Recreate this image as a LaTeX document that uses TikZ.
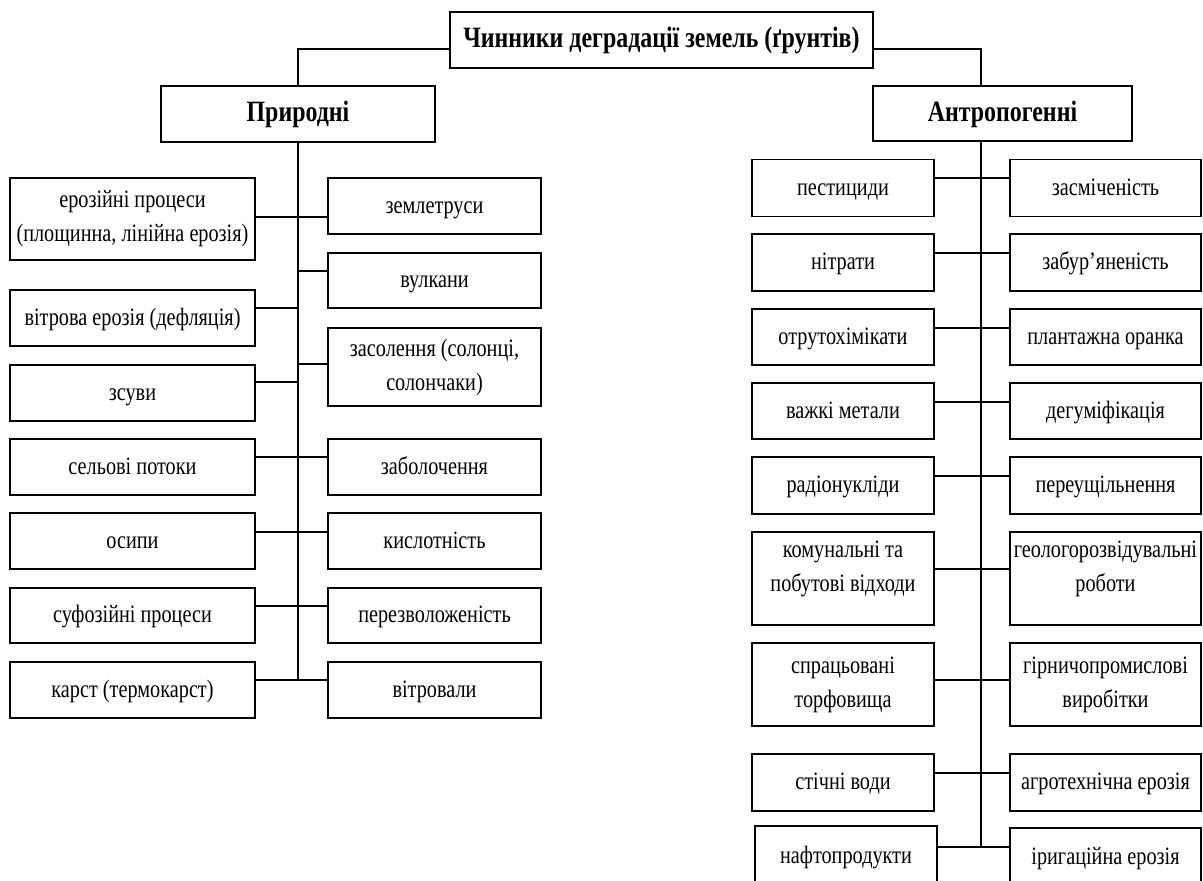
\documentclass[tikz,border=0pt]{standalone}
\usepackage{fontspec}
\setmainfont{Liberation Serif}[FakeStretch=0.81]
\begin{document}
\begin{tikzpicture}[x=1pt,y=-1pt,
  box/.style={draw, line width=1.6pt, inner sep=1pt, font=\fontsize{25}{34}\selectfont, text height=18pt, text depth=4pt},
  box2/.style={draw, line width=1.6pt, inner sep=1pt, align=center, font=\fontsize{25}{34}\selectfont},
  hbox/.style={draw, line width=1.6pt, inner sep=1pt, font=\fontsize{29.5}{32}\selectfont\bfseries, text height=20pt, text depth=5pt},
  conn/.style={line width=1.6pt}]
\useasboundingbox (0,0) rectangle (1203,881);
% headers
\node[hbox, minimum width=423pt, minimum height=56pt] (top) at (661.5,40) {Чинники деградації земель (ґрунтів)};
\node[hbox, minimum width=273.5pt, minimum height=56pt] (nat) at (298,114) {Природні};
\node[hbox, minimum width=259pt, minimum height=55pt] (ant) at (1002.5,113.5) {Антропогенні};
% left group, left column
\begin{scope}[every node/.append style={minimum width=245pt}]
\node[box2, minimum height=82pt] (L1) at (132.5,219) {ерозійні процеси\\(площинна, лінійна ерозія)};
\node[box, minimum height=56pt] (L2) at (132.5,318) {вітрова ерозія (дефляція)};
\node[box, minimum height=56pt] (L3) at (132.5,393) {зсуви};
\node[box, minimum height=56pt] (L4) at (132.5,467) {сельові потоки};
\node[box, minimum height=56pt] (L5) at (132.5,541) {осипи};
\node[box, minimum height=55pt] (L6) at (132.5,615.5) {суфозійні процеси};
\node[box, minimum height=56pt] (L7) at (132.5,690) {карст (термокарст)};
\end{scope}
% left group, right column
\begin{scope}[every node/.append style={minimum width=213pt}]
\node[box, minimum height=56pt] (R1) at (434.5,206) {землетруси};
\node[box, minimum height=55pt] (R2) at (434.5,280.5) {вулкани};
\node[box2, minimum height=78pt] (R3) at (434.5,367) {засолення (солонці,\\солончаки)};
\node[box, minimum height=56pt] (R4) at (434.5,467) {заболочення};
\node[box, minimum height=56pt] (R5) at (434.5,541) {кислотність};
\node[box, minimum height=55pt] (R6) at (434.5,615.5) {перезволоженість};
\node[box, minimum height=56pt] (R7) at (434.5,690) {вітровали};
\end{scope}
% right group, left column
\begin{scope}[every node/.append style={minimum width=182pt}]
\node[box, minimum height=57pt] (A1) at (843,188) {пестициди};
\node[box, minimum height=57pt] (A2) at (843,262.5) {нітрати};
\node[box, minimum height=56pt] (A3) at (843,337) {отрутохімікати};
\node[box, minimum height=56pt] (A4) at (843,411) {важкі метали};
\node[box, minimum height=57pt] (A5) at (843,485.5) {радіонукліди};
\node[box2, minimum height=93pt] (A6) at (843,578.5) {комунальні та\\побутові відходи\\[-10pt]};
\node[box2, minimum height=83pt] (A7) at (843,684.5) {спрацьовані\\торфовища};
\node[box, minimum height=57pt] (A8) at (843,782.5) {стічні води};
\node[box, minimum height=60pt] (A9) at (846,856) {нафтопродукти};
\end{scope}
% right group, right column
\begin{scope}[every node/.append style={minimum width=191pt}]
\node[box, minimum height=57pt] (B1) at (1105.5,188) {засміченість};
\node[box, minimum height=57pt] (B2) at (1105.5,262.5) {забур’яненість};
\node[box, minimum height=56pt] (B3) at (1105.5,337) {плантажна оранка};
\node[box, minimum height=56pt] (B4) at (1105.5,411) {дегуміфікація};
\node[box, minimum height=57pt] (B5) at (1105.5,485.5) {переущільнення};
\node[box2, minimum height=93pt] (B6) at (1105.5,578.5) {геологорозвідувальні\\роботи\\[-10pt]};
\node[box2, minimum height=83pt] (B7) at (1105.5,684.5) {гірничопромислові\\виробітки};
\node[box, minimum height=57pt] (B8) at (1105.5,782.5) {агротехнічна ерозія};
\node[box, minimum height=58pt] (B9) at (1105.5,857) {іригаційна ерозія};
\end{scope}
% junction coordinates
\coordinate (tl) at (298,49);
\coordinate (tr) at (981,49);
\coordinate (j1) at (298,217);
\coordinate (j2) at (298,271);
\coordinate (j3) at (298,308);
\coordinate (j4) at (298,364);
\coordinate (j5) at (298,382);
\coordinate (j6) at (298,457);
\coordinate (j7) at (298,532);
\coordinate (j8) at (298,606);
\coordinate (j9) at (298,680);
\coordinate (k1) at (981,178);
\coordinate (k2) at (981,253);
\coordinate (k3) at (981,328);
\coordinate (k4) at (981,402);
\coordinate (k5) at (981,476);
\coordinate (k6) at (981,569);
\coordinate (k7) at (981,680);
\coordinate (k8) at (981,773);
\coordinate (k9) at (981,847);
% connectors
\draw[conn] (top.west |- tl) -- (tl) -- (nat.north);
\draw[conn] (top.east |- tr) -- (tr) -- (tr |- ant.north);
\draw[conn] (nat.south) -- (j9);
\draw[conn] (tr |- ant.south) -- (k9);
\draw[conn] (L1.east |- j1) -- (R1.west |- j1);
\draw[conn] (j2) -- (R2.west |- j2);
\draw[conn] (L2.east |- j3) -- (j3);
\draw[conn] (j4) -- (R3.west |- j4);
\draw[conn] (L3.east |- j5) -- (j5);
\draw[conn] (L4.east |- j6) -- (R4.west |- j6);
\draw[conn] (L5.east |- j7) -- (R5.west |- j7);
\draw[conn] (L6.east |- j8) -- (R6.west |- j8);
\draw[conn] (L7.east |- j9) -- (R7.west |- j9);
\draw[conn] (A1.east |- k1) -- (B1.west |- k1);
\draw[conn] (A2.east |- k2) -- (B2.west |- k2);
\draw[conn] (A3.east |- k3) -- (B3.west |- k3);
\draw[conn] (A4.east |- k4) -- (B4.west |- k4);
\draw[conn] (A5.east |- k5) -- (B5.west |- k5);
\draw[conn] (A6.east |- k6) -- (B6.west |- k6);
\draw[conn] (A7.east |- k7) -- (B7.west |- k7);
\draw[conn] (A8.east |- k8) -- (B8.west |- k8);
\draw[conn] (A9.east |- k9) -- (B9.west |- k9);
\end{tikzpicture}
\end{document}
